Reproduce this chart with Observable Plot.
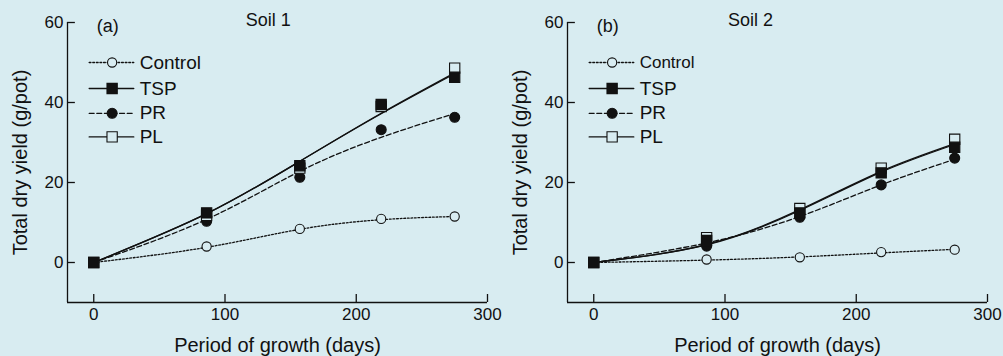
<!DOCTYPE html>
<html>
<head>
<meta charset="utf-8">
<script src="https://cdn.jsdelivr.net/npm/d3@7"></script>
<script src="https://cdn.jsdelivr.net/npm/@observablehq/plot@0.6"></script>
<style>
  html, body { margin: 0; padding: 0; background: #d8ecf1; }
  #wrap { display: flex; width: 1003px; height: 356px; overflow: hidden; }
  svg { display: block; }
</style>
</head>
<body>
<div id="wrap"></div>
<script>
// ---- Data ----
const days = [0, 86, 157, 219, 275];
const seriesNames = ["Control", "TSP", "PR", "PL"];
const xTicks = [0, 100, 200, 300];
const yTicks = [0, 20, 40, 60];

// Soil 1 observations
const soil1Control = [0, 4.0, 8.4, 10.9, 11.5];
const soil1TSP     = [0, 12.4, 24.2, 39.5, 46.3];
const soil1PR      = [0, 10.3, 21.3, 33.2, 36.3];
const soil1PL      = [0, 11.8, 23.6, 39.0, 48.6];
// Soil 1 fitted curves
const soil1ControlFit = [0, 3.8, 8.3, 10.7, 11.5];
const soil1TSPFit     = [0, 12.2, 25.3, 37.2, 47.2];
const soil1PRFit      = [0, 10.8, 22.8, 31.3, 37.2];
const soil1PLFit      = [0, 12.2, 25.3, 37.3, 47.4];

// Soil 2 observations
const soil2Control = [0, 0.75, 1.3, 2.6, 3.2];
const soil2TSP     = [0, 5.5, 12.4, 22.4, 28.8];
const soil2PR      = [0, 4.1, 11.3, 19.4, 26.1];
const soil2PL      = [0, 6.2, 13.5, 23.6, 30.8];
// Soil 2 fitted curves
const soil2ControlFit = [0, 0.6, 1.4, 2.4, 3.3];
const soil2TSPFit     = [0, 4.4, 13.0, 22.6, 29.5];
const soil2PRFit      = [0, 4.9, 11.5, 19.4, 25.8];
const soil2PLFit      = [0, 4.5, 13.2, 22.8, 29.7];

// ---- Styles ----
const BG = "#d8ecf1";
const INK = "#111";
const FONT = "'Liberation Sans', Arial, Helvetica, sans-serif";
const styles = {
  Control: {dash: "1.8,1.8", symbol: "circle", fill: BG, r: 4.6},
  TSP:     {dash: null, symbol: "square", fill: INK, r: 5.8},
  PR:      {dash: "5,2.6", symbol: "circle", fill: INK, r: 5},
  PL:      {dash: null, symbol: "square", fill: BG, r: 5.8}
};

function rows(vals) {
  const out = [];
  seriesNames.forEach((s, k) => vals[k].forEach((v, i) => out.push({series: s, day: days[i], value: v})));
  return out;
}

function panel({obs, fit, title, titleX, tag, width, marginRight, legendFont}) {
  const obsRows = rows(obs);
  const fitRows = rows(fit);
  const drawOrder = ["Control", "PR", "PL", "TSP"];
  const marks = [
    Plot.ruleX([-20], {y1: -10, y2: 60, stroke: INK, strokeWidth: 1.3}),
    Plot.ruleY([-10], {x1: -20, x2: 300, stroke: INK, strokeWidth: 1.3}),
    Plot.ruleX(xTicks, {x: d => d, y1: -10, y2: -8, stroke: INK, strokeWidth: 1.3}),
    Plot.ruleY(yTicks, {y: d => d, x1: -20, x2: -14, stroke: INK, strokeWidth: 1.3}),
  ];
  // fitted curves
  for (const s of drawOrder) {
    marks.push(Plot.line(fitRows.filter(d => d.series === s), {
      x: "day", y: "value", curve: "natural", stroke: INK, strokeWidth: 1.3,
      strokeDasharray: styles[s].dash
    }));
  }
  // observed points
  for (const s of drawOrder) {
    const st = styles[s];
    marks.push(Plot.dot(obsRows.filter(d => d.series === s), {
      x: "day", y: "value", symbol: st.symbol, r: st.r, fill: st.fill, stroke: INK, strokeWidth: 1.1
    }));
  }
  // legend
  const legendY = {Control: 50, TSP: 43.5, PR: 37.3, PL: 31.4};
  for (const s of seriesNames) {
    const st = styles[s];
    marks.push(Plot.line([[-3.5, legendY[s]], [30.5, legendY[s]]], {
      stroke: INK, strokeWidth: 1.3, strokeDasharray: st.dash
    }));
    marks.push(Plot.dot([[14, legendY[s]]], {
      symbol: st.symbol, r: st.r, fill: st.fill === INK ? INK : BG, stroke: INK, strokeWidth: 1.1
    }));
    marks.push(Plot.text([s], {
      x: 35, y: legendY[s], text: d => d, textAnchor: "start", lineAnchor: "middle",
      fontSize: s === "Control" ? legendFont : 19, fill: INK
    }));
  }
  // titles & labels
  marks.push(
    Plot.text([title], {x: titleX, y: 60.5, text: d => d, fontSize: 18, fill: INK}),
    Plot.text([tag], {x: 10.7, y: 59, text: d => d, fontSize: 18, fill: INK}),
    Plot.text(["Period of growth (days)"], {frameAnchor: "bottom", dy: 43, text: d => d,
      textAnchor: "middle", lineAnchor: "middle", fontSize: 20, fill: INK}),
    Plot.text(["Total dry yield (g/pot)"], {frameAnchor: "left", dx: -47, rotate: -90, text: d => d,
      textAnchor: "middle", lineAnchor: "middle", fontSize: 20, fill: INK})
  );
  return Plot.plot({
    width, height: 356,
    marginLeft: 67, marginRight, marginTop: 22, marginBottom: 54,
    style: {background: "transparent", fontFamily: FONT, fontSize: "17px", color: INK, overflow: "visible"},
    x: {domain: [-20, 300], ticks: xTicks, tickSize: 0, tickPadding: 5, label: null, tickFormat: d => String(d)},
    y: {domain: [-10, 60], ticks: yTicks, tickSize: 0, tickPadding: 4, label: null, tickFormat: d => String(d)},
    marks
  });
}

const wrap = document.getElementById("wrap");
wrap.append(panel({
  obs: [soil1Control, soil1TSP, soil1PR, soil1PL],
  fit: [soil1ControlFit, soil1TSPFit, soil1PRFit, soil1PLFit],
  title: "Soil 1", titleX: 133, tag: "(a)", width: 500, marginRight: 13, legendFont: 19
}));
wrap.append(panel({
  obs: [soil2Control, soil2TSP, soil2PR, soil2PL],
  fit: [soil2ControlFit, soil2TSPFit, soil2PRFit, soil2PLFit],
  title: "Soil 2", titleX: 119.5, tag: "(b)", width: 503, marginRight: 16, legendFont: 17
}));
</script>
</body>
</html>
